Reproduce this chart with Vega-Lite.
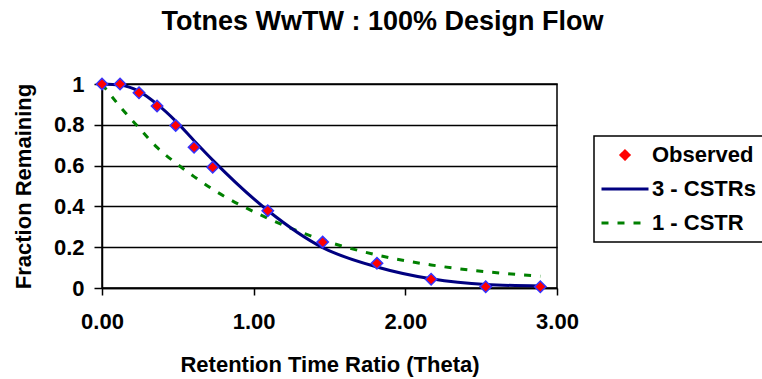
{
  "$schema": "https://vega.github.io/schema/vega-lite/v6.json",
  "width": 455,
  "height": 204,
  "autosize": {"type": "none"},
  "padding": {"left": 102, "top": 84, "right": 205, "bottom": 91},
  "background": "white",
  "title": {
    "text": "Totnes WwTW : 100% Design Flow",
    "font": "Liberation Sans",
    "fontSize": 27,
    "fontWeight": "bold",
    "color": "black",
    "anchor": "middle",
    "baseline": "alphabetic",
    "dx": 53,
    "offset": 16
  },
  "config": {
    "view": {"stroke": "black", "strokeWidth": 1.5},
    "axis": {
      "labelFont": "Liberation Sans",
      "labelFontSize": 22,
      "labelFontWeight": "bold",
      "labelColor": "black",
      "titleFont": "Liberation Sans",
      "titleFontSize": 22,
      "titleFontWeight": "bold",
      "titleColor": "black",
      "domainColor": "black",
      "domainWidth": 1.5,
      "tickColor": "black",
      "tickWidth": 1.5,
      "labelFlush": false,
      "labelOverlap": false
    },
    "legend": {
      "strokeWidth": 1.5
    }
  },
  "data": {
    "values": [
      {"theta": 0.0, "value": 1.0, "series": "Observed"},
      {"theta": 0.119, "value": 1.0, "series": "Observed"},
      {"theta": 0.244, "value": 0.957, "series": "Observed"},
      {"theta": 0.363, "value": 0.892, "series": "Observed"},
      {"theta": 0.486, "value": 0.797, "series": "Observed"},
      {"theta": 0.607, "value": 0.69, "series": "Observed"},
      {"theta": 0.73, "value": 0.592, "series": "Observed"},
      {"theta": 1.093, "value": 0.379, "series": "Observed"},
      {"theta": 1.455, "value": 0.225, "series": "Observed"},
      {"theta": 1.813, "value": 0.121, "series": "Observed"},
      {"theta": 2.17, "value": 0.043, "series": "Observed"},
      {"theta": 2.53, "value": 0.006, "series": "Observed"},
      {"theta": 2.89, "value": 0.006, "series": "Observed"},
      {"theta": 0.0, "value": 1.0, "series": "3 - CSTRs"},
      {"theta": 0.119, "value": 0.995, "series": "3 - CSTRs"},
      {"theta": 0.244, "value": 0.964, "series": "3 - CSTRs"},
      {"theta": 0.363, "value": 0.901, "series": "3 - CSTRs"},
      {"theta": 0.486, "value": 0.818, "series": "3 - CSTRs"},
      {"theta": 0.607, "value": 0.722, "series": "3 - CSTRs"},
      {"theta": 0.73, "value": 0.627, "series": "3 - CSTRs"},
      {"theta": 1.093, "value": 0.38, "series": "3 - CSTRs"},
      {"theta": 1.455, "value": 0.198, "series": "3 - CSTRs"},
      {"theta": 1.813, "value": 0.103, "series": "3 - CSTRs"},
      {"theta": 2.17, "value": 0.045, "series": "3 - CSTRs"},
      {"theta": 2.53, "value": 0.017, "series": "3 - CSTRs"},
      {"theta": 2.89, "value": 0.01, "series": "3 - CSTRs"},
      {"theta": 0.0, "value": 1.0, "series": "1 - CSTR"},
      {"theta": 0.119, "value": 0.889, "series": "1 - CSTR"},
      {"theta": 0.244, "value": 0.785, "series": "1 - CSTR"},
      {"theta": 0.363, "value": 0.689, "series": "1 - CSTR"},
      {"theta": 0.486, "value": 0.613, "series": "1 - CSTR"},
      {"theta": 0.607, "value": 0.546, "series": "1 - CSTR"},
      {"theta": 0.73, "value": 0.484, "series": "1 - CSTR"},
      {"theta": 1.093, "value": 0.342, "series": "1 - CSTR"},
      {"theta": 1.455, "value": 0.235, "series": "1 - CSTR"},
      {"theta": 1.813, "value": 0.162, "series": "1 - CSTR"},
      {"theta": 2.17, "value": 0.113, "series": "1 - CSTR"},
      {"theta": 2.53, "value": 0.08, "series": "1 - CSTR"},
      {"theta": 2.89, "value": 0.058, "series": "1 - CSTR"}
    ]
  },
  "encoding": {
    "x": {
      "field": "theta",
      "type": "quantitative",
      "scale": {"domain": [0, 3], "nice": false, "zero": false},
      "axis": {
        "title": "Retention Time Ratio (Theta)",
        "values": [0, 1, 2, 3],
        "format": ".2f",
        "grid": false,
        "tickSize": 7,
        "labelPadding": 16,
        "titlePadding": 22
      }
    },
    "y": {
      "field": "value",
      "type": "quantitative",
      "scale": {"domain": [0, 1], "nice": false},
      "axis": {
        "title": "Fraction Remaining",
        "values": [0, 0.2, 0.4, 0.6, 0.8, 1],
        "format": "~g",
        "grid": true,
        "gridColor": "black",
        "gridWidth": 1.5,
        "gridOpacity": 1,
        "tickSize": 8,
        "labelPadding": 10,
        "titlePadding": 18
      }
    },
    "color": {
      "field": "series",
      "type": "nominal",
      "scale": {
        "domain": ["Observed", "3 - CSTRs", "1 - CSTR"],
        "range": ["#FF0000", "#000080", "#008000"]
      },
      "legend": {
        "title": null,
        "orient": "none",
        "legendX": 492,
        "legendY": 52,
        "strokeColor": "black",
        "fillColor": "white",
        "padding": 8,
        "rowPadding": 12,
        "symbolOffset": 12,
        "labelOffset": 16,
        "labelFont": "Liberation Sans",
        "labelFontSize": 22,
        "labelFontWeight": "bold",
        "labelColor": "black",
        "labelLimit": 300,
        "symbolSize": 100,
        "encode": {
          "symbols": {
            "update": {
              "shape": {"signal": "datum.value === 'Observed' ? 'diamond' : 'M-4.7,0L4.7,0'"},
              "fill": {"signal": "datum.value === 'Observed' ? '#FF0000' : 'transparent'"},
              "stroke": {"signal": "datum.value === 'Observed' ? '#3333FF' : (datum.value === '3 - CSTRs' ? '#000080' : '#008000')"},
              "strokeWidth": {"signal": "datum.value === 'Observed' ? 1.5 : 3"},
              "strokeDash": {"signal": "datum.value === '1 - CSTR' ? [7, 9] : [1, 0]"},
              "size": {"value": 100},
              "opacity": {"value": 1}
            }
          }
        }
      }
    }
  },
  "layer": [
    {
      "transform": [{"filter": "datum.series === '1 - CSTR'"}],
      "mark": {"type": "line", "strokeWidth": 3, "strokeDash": [7, 9], "interpolate": "monotone"}
    },
    {
      "transform": [{"filter": "datum.series === '3 - CSTRs'"}],
      "mark": {"type": "line", "strokeWidth": 3, "interpolate": "monotone"}
    },
    {
      "transform": [{"filter": "datum.series === 'Observed'"}],
      "mark": {"type": "point", "shape": "diamond", "filled": true, "size": 130, "stroke": "#3333FF", "strokeWidth": 1.5, "opacity": 1}
    }
  ]
}
